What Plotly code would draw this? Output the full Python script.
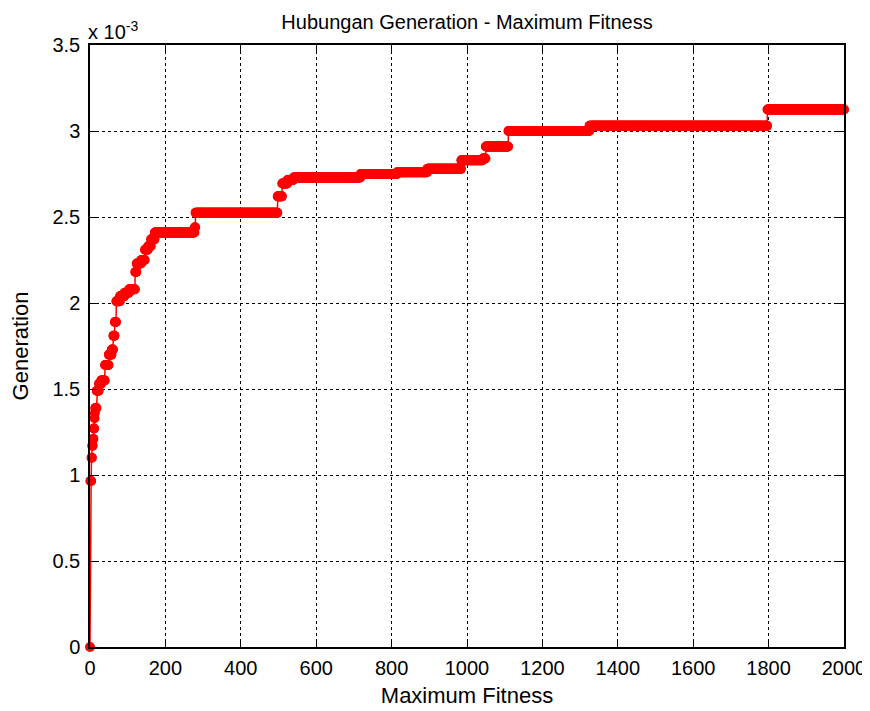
import numpy as np
import plotly.graph_objects as go

# Step changes of maximum fitness: generation at which a new value starts, and the value (x 1e-3)
change_gen = [0, 1, 4, 6, 8, 10, 12, 13, 14, 18, 24, 30, 40, 50, 58, 62, 66, 70, 80, 92, 104,
              120, 124, 136, 146, 154, 162, 172, 278, 280, 498, 510, 524, 540, 718, 815, 895,
              985, 1042, 1050, 1110, 1325, 1797]
change_val = [0.0, 0.965, 1.10, 1.17, 1.21, 1.27, 1.33, 1.36, 1.39, 1.49, 1.53, 1.55, 1.64, 1.70,
              1.73, 1.81, 1.89, 2.01, 2.04, 2.06, 2.08, 2.18, 2.23, 2.25, 2.31, 2.33, 2.37, 2.41,
              2.44, 2.525, 2.62, 2.695, 2.715, 2.73, 2.75, 2.76, 2.78, 2.83, 2.84, 2.91, 3.0,
              3.03, 3.125]
last_gen = 2000

x_ticks = [0, 200, 400, 600, 800, 1000, 1200, 1400, 1600, 1800, 2000]
y_ticks = [0, 0.5, 1, 1.5, 2, 2.5, 3, 3.5]
y_tick_labels = ["0", "0.5", "1", "1.5", "2", "2.5", "3", "3.5"]

# expand step data: value held constant from each change until the next
durations = np.diff(change_gen + [last_gen + 1])
gens = np.arange(0, last_gen + 1)
fitness = np.repeat(np.array(change_val) * 1e-3, durations)

fig = go.Figure()
fig.add_trace(go.Scatter(
    x=gens, y=fitness, mode="lines+markers",
    line=dict(color="#ff0000", width=1.5),
    marker=dict(color="#ff0000", size=10, line=dict(width=0)),
    cliponaxis=False,
    showlegend=False,
))

font = "Liberation Sans, Arial, sans-serif"
axis_common = dict(
    showline=True, linecolor="black", linewidth=1.5, mirror="ticks",
    ticks="inside", ticklen=7, tickcolor="black",
    showgrid=True, gridcolor="black", gridwidth=1, griddash="dot",
    zeroline=False, tickfont=dict(family=font, size=20, color="black"),
    automargin=False,
)
fig.update_xaxes(range=[0, 2000], tickvals=x_ticks, **axis_common, ticklabelstandoff=2,
                 title=dict(text="Maximum Fitness", font=dict(family=font, size=22, color="black"), standoff=10))
fig.update_yaxes(range=[0, 3.5e-3], tickvals=[v * 1e-3 for v in y_ticks], ticktext=y_tick_labels, **axis_common,
                 ticklabelstandoff=4,
                 title=dict(text="Generation", font=dict(family=font, size=22, color="black"), standoff=18))

fig.add_annotation(text="x 10<sup>-3</sup>", xref="paper", yref="paper", x=0, y=1,
                   xanchor="left", yanchor="bottom", showarrow=False, yshift=0, xshift=-4,
                   font=dict(family=font, size=20, color="black"))

# page is drawn with an 8px body margin: compensate in the figure margins
fig.update_layout(
    width=870, height=711,
    margin=dict(l=82, r=34, t=37, b=72, autoexpand=False),
    paper_bgcolor="white", plot_bgcolor="white",
    title=dict(text="Hubungan Generation - Maximum Fitness", x=0.5, xref="paper",
               y=1 - 14 / 711, yanchor="middle", automargin=False,
               font=dict(family=font, size=20, color="black")),
)

fig.write_html("out.html")
